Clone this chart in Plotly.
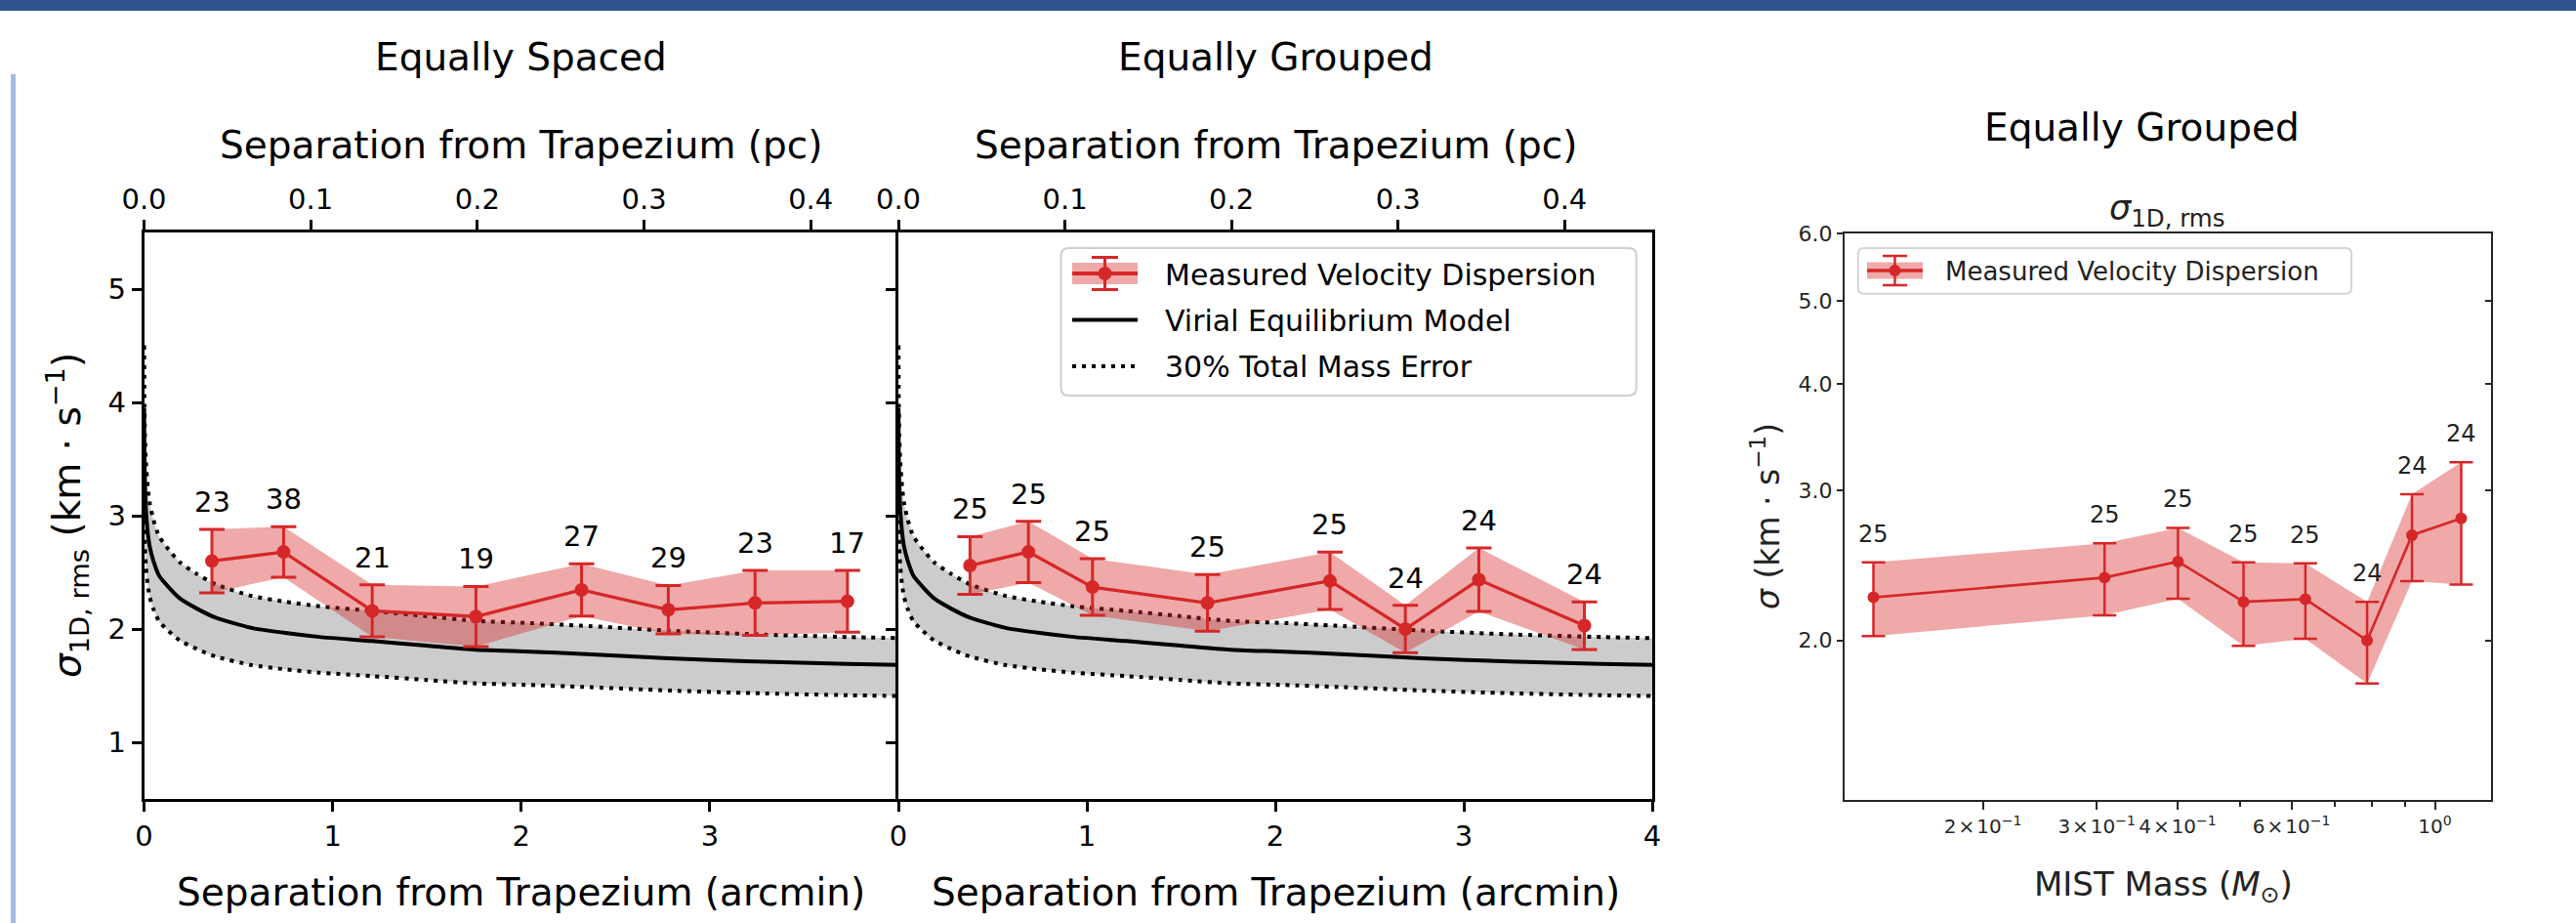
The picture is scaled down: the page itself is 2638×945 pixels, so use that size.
import math
import plotly.graph_objects as go

W, H = 2638, 945
FONT = "DejaVu Sans"
RED = "#d62728"
RED_FILL = "rgba(214,39,40,0.4)"
GRAY_FILL = "rgba(128,128,128,0.4)"

# ---------------- data ----------------
# Equally spaced radial bins (arcmin), 1D rms velocity dispersion (km/s)
es_sep = [0.36, 0.74, 1.21, 1.76, 2.32, 2.78, 3.24, 3.73]
es_sigma = [2.60, 2.68, 2.16, 2.11, 2.345, 2.17, 2.23, 2.245]
es_err = [0.28, 0.223, 0.23, 0.265, 0.23, 0.214, 0.287, 0.273]
es_count = [23, 38, 21, 19, 27, 29, 23, 17]

# Equally grouped radial bins
eg_sep = [0.38, 0.69, 1.03, 1.64, 2.29, 2.69, 3.08, 3.64]
eg_sigma = [2.56, 2.68, 2.37, 2.23, 2.425, 2.0, 2.435, 2.03]
eg_err = [0.255, 0.27, 0.25, 0.25, 0.253, 0.21, 0.28, 0.21]
eg_count = [25, 25, 25, 25, 25, 24, 24, 24]

# Equally grouped mass bins (MIST mass, Msun)
mass = [0.1355, 0.3085, 0.4006, 0.5059, 0.6305, 0.7855, 0.9215, 1.098]
mass_sigma = [2.247, 2.37, 2.475, 2.22, 2.236, 2.0, 2.658, 2.781]
mass_err = [0.223, 0.23, 0.236, 0.249, 0.227, 0.219, 0.311, 0.455]
mass_count = [25, 25, 25, 25, 25, 24, 24, 24]

# Virial equilibrium model sigma(r)
model_sep = [0.0007, 0.002, 0.005, 0.01, 0.02, 0.03, 0.05, 0.08, 0.13, 0.19,
             0.28, 0.38, 0.57, 0.75, 0.93, 1.21, 1.5, 1.76, 2.05, 2.32,
             2.78, 3.24, 3.73, 4.0]
model_sigma = [3.95, 3.57, 3.25, 3.05, 2.85, 2.73, 2.60, 2.47, 2.37, 2.27,
               2.18, 2.10, 2.01, 1.965, 1.93, 1.894, 1.853, 1.817, 1.80, 1.78,
               1.742, 1.713, 1.692, 1.684]
MASS_ERR = 0.30          # fractional total-mass uncertainty
DIST_PC = 389.0          # distance used for the arcmin -> pc axis

x_ticks_es = [0, 1, 2, 3]
x_ticks_eg = [0, 1, 2, 3, 4]
pc_ticks = [0.0, 0.1, 0.2, 0.3, 0.4]
y_ticks = [1, 2, 3, 4, 5]
mass_major = [0.2, 0.3, 0.4, 0.6, 1.0]
mass_ticktext = ["2\u200a×\u200a10<sup>−1</sup>", "3\u200a×\u200a10<sup>−1</sup>",
                 "4\u200a×\u200a10<sup>−1</sup>", "6\u200a×\u200a10<sup>−1</sup>",
                 "10<sup>0</sup>"]
mass_minor = [0.5, 0.7, 0.8, 0.9]
sig_log_ticks = [2.0, 3.0, 4.0, 5.0, 6.0]

arcmin_to_pc = DIST_PC * math.pi / (180.0 * 60.0)
model_hi = [s * math.sqrt(1 + MASS_ERR) for s in model_sigma]
model_lo = [s * math.sqrt(1 - MASS_ERR) for s in model_sigma]


def px(x):
    return x / W


def py(y):
    return 1 - y / H


fig = go.Figure()


def add_radial_panel(xa, ya, xtop, sep, sig, err, counts):
    curve = dict(shape="spline", smoothing=0.6)
    # model band
    fig.add_trace(go.Scatter(x=model_sep, y=model_lo, mode="lines", xaxis=xa, yaxis=ya,
                             line=dict(curve, color="black", width=4, dash="4px,6px"),
                             hoverinfo="skip", showlegend=False))
    fig.add_trace(go.Scatter(x=model_sep, y=model_hi, mode="lines", xaxis=xa, yaxis=ya,
                             fill="tonexty", fillcolor=GRAY_FILL,
                             line=dict(curve, color="black", width=4, dash="4px,6px"),
                             hoverinfo="skip", showlegend=False))
    fig.add_trace(go.Scatter(x=model_sep, y=model_sigma, mode="lines", xaxis=xa, yaxis=ya,
                             line=dict(curve, color="black", width=4),
                             hoverinfo="skip", showlegend=False))
    # measured band
    lo = [s - e for s, e in zip(sig, err)]
    hi = [s + e for s, e in zip(sig, err)]
    fig.add_trace(go.Scatter(x=sep, y=lo, mode="lines", xaxis=xa, yaxis=ya,
                             line=dict(width=0, color=RED_FILL),
                             hoverinfo="skip", showlegend=False))
    fig.add_trace(go.Scatter(x=sep, y=hi, mode="lines", xaxis=xa, yaxis=ya,
                             fill="tonexty", fillcolor=RED_FILL,
                             line=dict(width=0, color=RED_FILL),
                             hoverinfo="skip", showlegend=False))
    fig.add_trace(go.Scatter(x=sep, y=sig, mode="lines+markers", xaxis=xa, yaxis=ya,
                             line=dict(color=RED, width=3.3),
                             marker=dict(color=RED, size=14),
                             error_y=dict(type="data", array=err, color=RED,
                                          thickness=3, width=13),
                             showlegend=False))
    # invisible trace so the pc axis is bound
    fig.add_trace(go.Scatter(x=[s * arcmin_to_pc for s in sep], y=sig, mode="markers",
                             xaxis=xtop, yaxis=ya, marker=dict(opacity=0),
                             hoverinfo="skip", showlegend=False))
    for s, v, e, n in zip(sep, sig, err, counts):
        fig.add_annotation(x=s, y=v + e, xref=xa, yref=ya, text=str(n), showarrow=False,
                           yanchor="middle", yshift=28,
                           font=dict(family=FONT, size=29, color="black"))


add_radial_panel("x", "y", "x2", es_sep, es_sigma, es_err, es_count)
add_radial_panel("x3", "y3", "x4", eg_sep, eg_sigma, eg_err, eg_count)

# mass panel
m_lo = [s - e for s, e in zip(mass_sigma, mass_err)]
m_hi = [s + e for s, e in zip(mass_sigma, mass_err)]
fig.add_trace(go.Scatter(x=mass, y=m_lo, mode="lines", xaxis="x5", yaxis="y5",
                         line=dict(width=0, color=RED_FILL), hoverinfo="skip", showlegend=False))
fig.add_trace(go.Scatter(x=mass, y=m_hi, mode="lines", xaxis="x5", yaxis="y5",
                         fill="tonexty", fillcolor=RED_FILL,
                         line=dict(width=0, color=RED_FILL), hoverinfo="skip", showlegend=False))
fig.add_trace(go.Scatter(x=mass, y=mass_sigma, mode="lines+markers", xaxis="x5", yaxis="y5",
                         line=dict(color=RED, width=2.6), marker=dict(color=RED, size=12),
                         error_y=dict(type="data", array=mass_err, color=RED,
                                      thickness=2.5, width=12),
                         showlegend=False))
fig.add_trace(go.Scatter(x=mass, y=mass_sigma, mode="markers", xaxis="x5", yaxis="y6",
                         marker=dict(opacity=0), hoverinfo="skip", showlegend=False))
for m, v, e, n in zip(mass, mass_sigma, mass_err, mass_count):
    fig.add_annotation(x=math.log10(m), y=math.log10(v + e), xref="x5", yref="y5",
                       text=str(n), showarrow=False, yanchor="middle", yshift=29,
                       font=dict(family=FONT, size=24, color="#222222"))

# ---------------- axes ----------------
base = dict(showgrid=False, zeroline=False, showline=True, linecolor="black", linewidth=2.5,
            ticks="outside", ticklen=10, tickwidth=2.5, tickcolor="black", automargin=False,
            tickangle=0, tickfont=dict(family=FONT, size=29, color="black"))
small = dict(showgrid=False, zeroline=False, showline=True, linecolor="#262626",
             linewidth=2, ticks="outside", ticklen=6, tickwidth=1.5, tickcolor="#262626",
             automargin=False, tickangle=0,
             tickfont=dict(family=FONT, size=22, color="#262626"))
dom1 = [px(147.5), px(920)]
dom2 = [px(920), px(1692)]
ydom = [py(818), py(238)]

fig.update_layout(
    xaxis=dict(base, domain=dom1, anchor="y", range=[0, 4], tickmode="array",
               tickvals=x_ticks_es, ticktext=[str(t) for t in x_ticks_es]),
    xaxis2=dict(base, overlaying="x", side="top", anchor="y",
                range=[0, 4 * arcmin_to_pc], tickmode="array", tickvals=pc_ticks,
                ticktext=[f"{t:.1f}" for t in pc_ticks]),
    yaxis=dict(base, domain=ydom, anchor="x", range=[0.5, 5.5], tickmode="array",
               tickvals=y_ticks, ticktext=[str(t) for t in y_ticks]),
    xaxis3=dict(base, domain=dom2, anchor="y3", range=[0, 4], tickmode="array",
                tickvals=x_ticks_eg, ticktext=[str(t) for t in x_ticks_eg]),
    xaxis4=dict(base, overlaying="x3", side="top", anchor="y3",
                range=[0, 4 * arcmin_to_pc], tickmode="array", tickvals=pc_ticks,
                ticktext=[f"{t:.1f}" for t in pc_ticks]),
    yaxis3=dict(base, domain=ydom, anchor="x3", range=[0.5, 5.5], tickmode="array",
                tickvals=y_ticks, showticklabels=False, mirror=True),
    xaxis5=dict(small, mirror=True, domain=[px(1888.8), px(2551)], anchor="y5",
                type="log", range=[math.log10(0.1222), math.log10(1.221)],
                tickmode="array", tickvals=mass_major, ticktext=mass_ticktext,
                ticklen=8, tickfont=dict(family=FONT, size=20, color="#262626"),
                minor=dict(tickvals=mass_minor, ticks="outside", ticklen=5,
                           tickwidth=1.5, tickcolor="#262626")),
    yaxis5=dict(small, mirror=True, domain=[py(819), py(239.3)], anchor="x5",
                type="log", range=[math.log10(1.3), math.log10(6.0)],
                tickmode="array", tickvals=sig_log_ticks,
                ticktext=[f"{t:.1f}" for t in sig_log_ticks]),
    yaxis6=dict(showgrid=False, zeroline=False, showline=False, overlaying="y5",
                side="right", anchor="x5", type="log", automargin=False,
                range=[math.log10(1.3), math.log10(6.0)], tickmode="array",
                tickvals=sig_log_ticks[:-1], ticks="inside", ticklen=6, tickwidth=1.5,
                tickcolor="#262626", showticklabels=False),
)

# ---------------- text ----------------
def text(x, y, s, size, angle=0, color="black", xanchor="center"):
    fig.add_annotation(x=px(x), y=py(y), xref="paper", yref="paper", text=s,
                       showarrow=False, xanchor=xanchor, yanchor="middle", textangle=angle,
                       font=dict(family=FONT, size=size, color=color))


text(533.5, 58, "Equally Spaced", 39)
text(1306, 58, "Equally Grouped", 39)
text(533.5, 148, "Separation from Trapezium (pc)", 39)
text(1306, 148, "Separation from Trapezium (pc)", 39)
text(533.5, 913, "Separation from Trapezium (arcmin)", 39)
text(1306, 913, "Separation from Trapezium (arcmin)", 39)
text(69, 528, "<i>σ</i><sub>1D, rms</sub> (km · s<sup>−1</sup>)", 39, angle=-90)

text(2193, 130, "Equally Grouped", 39)
text(2219, 216, "<i>σ</i><sub>1D, rms</sub>", 35, color="#222222")
text(2215, 907, "MIST Mass (<i>M</i><sub>⊙</sub>)", 34, color="#222222")
text(1808, 529, "<i>σ</i> (km · s<sup>−1</sup>)", 33, angle=-90, color="#222222")

# ---------------- decorations ----------------
shapes = []
shapes.append(dict(type="rect", xref="paper", yref="paper", x0=0, x1=1, y0=py(11), y1=1,
                   fillcolor="#30538f", line=dict(width=0), layer="above"))
shapes.append(dict(type="rect", xref="paper", yref="paper", x0=px(11), x1=px(16),
                   y0=0, y1=py(76), fillcolor="#a6bbe2", line=dict(width=0), layer="above"))


def rounded_box(x0, y0, x1, y1, r, color):
    rx, ry = r / W, r / H
    X0, X1, Y0, Y1 = px(x0), px(x1), py(y1), py(y0)
    path = (f"M {X0 + rx},{Y0} L {X1 - rx},{Y0} Q {X1},{Y0} {X1},{Y0 + ry} "
            f"L {X1},{Y1 - ry} Q {X1},{Y1} {X1 - rx},{Y1} L {X0 + rx},{Y1} "
            f"Q {X0},{Y1} {X0},{Y1 - ry} L {X0},{Y0 + ry} Q {X0},{Y0} {X0 + rx},{Y0} Z")
    return dict(type="path", xref="paper", yref="paper", path=path,
                fillcolor="rgba(255,255,255,0.9)", line=dict(color=color, width=2))


def seg(x0, y0, x1, y1, color, width, dash="solid"):
    return dict(type="line", xref="paper", yref="paper", x0=px(x0), y0=py(y0),
                x1=px(x1), y1=py(y1), line=dict(color=color, width=width, dash=dash))


def errbar_key(xl, xr, yc, band_h, bar_h, cap_w, lw, r):
    xc = (xl + xr) / 2
    out = [dict(type="rect", xref="paper", yref="paper", x0=px(xl), x1=px(xr),
                y0=py(yc + band_h / 2), y1=py(yc - band_h / 2),
                fillcolor=RED_FILL, line=dict(width=0)),
           seg(xl, yc, xr, yc, RED, lw + 1),
           seg(xc, yc - bar_h / 2, xc, yc + bar_h / 2, RED, lw),
           seg(xc - cap_w / 2, yc - bar_h / 2, xc + cap_w / 2, yc - bar_h / 2, RED, lw),
           seg(xc - cap_w / 2, yc + bar_h / 2, xc + cap_w / 2, yc + bar_h / 2, RED, lw),
           dict(type="circle", xref="paper", yref="paper", x0=px(xc - r), x1=px(xc + r),
                y0=py(yc + r), y1=py(yc - r), fillcolor=RED, line=dict(width=0))]
    return out


# legend of the radial panels
shapes.append(rounded_box(1086.5, 254, 1675.7, 405, 8, "#cfcfcf"))
shapes += errbar_key(1098, 1165, 280, 22, 33, 27, 3, 7)
shapes.append(seg(1098, 327.5, 1165, 327.5, "black", 4))
shapes.append(seg(1098, 375, 1165, 375, "black", 4, "4px,6px"))
text(1191, 281, "Measured Velocity Dispersion", 30, xanchor="left")
text(1191, 328, "Virial Equilibrium Model", 30, xanchor="left")
text(1191, 375.5, "30% Total Mass Error", 30, xanchor="left")

# legend of the mass panel
shapes.append(rounded_box(1902.8, 254, 2408, 300.7, 6, "#d5d5d5"))
shapes += errbar_key(1912, 1969, 277, 17, 30, 25, 2.5, 6)
text(1989.6, 277.5, "Measured Velocity Dispersion", 26, color="#222222", xanchor="left")

fig.update_layout(
    width=W, height=H, margin=dict(l=0, r=0, t=0, b=0, autoexpand=False),
    paper_bgcolor="white", plot_bgcolor="white",
    showlegend=False, shapes=shapes,
)

fig.write_html("out.html")
